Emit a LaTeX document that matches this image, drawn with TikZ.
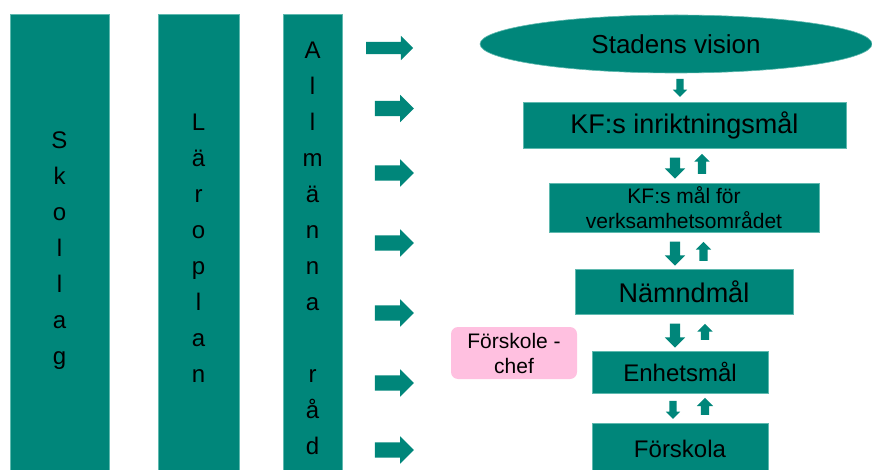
\documentclass[tikz,border=0pt]{standalone}
\usepackage{fontspec}
\setmainfont{Liberation Sans}
\usetikzlibrary{shapes.geometric,shapes.arrows}
\definecolor{tealc}{RGB}{0,134,122}
\definecolor{tealedge}{RGB}{95,185,175}
\definecolor{pinkc}{RGB}{255,192,224}
\begin{document}
\begin{tikzpicture}[x=1pt,y=-1pt,
  colbox/.style={fill=tealc, draw=tealedge, line width=0.6pt, anchor=north west, inner sep=0},
  coltext/.style={font=\fontsize{24}{36}\selectfont, align=center, inner sep=0},
  goalbox/.style={fill=tealc, draw=tealedge, line width=0.6pt, inner sep=0, align=center},
  blockarrow/.style={single arrow, fill=tealc, draw=none, inner xsep=0, minimum width=0pt},
  rarrow/.style={blockarrow, minimum height=39, inner ysep=7.5, single arrow head extend=6},
  darrow/.style={blockarrow, rotate=-90, inner ysep=5, single arrow head extend=5},
  uarrow/.style={blockarrow, rotate=90, inner ysep=4, single arrow head extend=3.5}
]
\useasboundingbox (0,0) rectangle (872,470);

% left columns
\node[colbox, minimum width=99, minimum height=460] (skollag) at (10,14) {};
\node[colbox, minimum width=81, minimum height=460] (laroplan) at (158,14) {};
\node[colbox, minimum width=59, minimum height=460] (allmanna) at (283,14) {};
\node[coltext] (skollagtxt) at (59.5,250.5) {S\\k\\o\\l\\l\\a\\g};
\node[coltext] (laroplantxt) at (198.5,248) {L\\ä\\r\\o\\p\\l\\a\\n};
\node[coltext] (allmannatxt) at (312.5,248) {A\\l\\l\\m\\ä\\n\\n\\a\\\mbox{}\\r\\å\\d};

% right-pointing arrows
\node[rarrow, minimum height=47, inner ysep=6] (r1) at (386.5,48) {};
\node[rarrow] (r2) at (390.5,108.5) {};
\node[rarrow] (r3) at (390.5,173) {};
\node[rarrow] (r4) at (390.5,243) {};
\node[rarrow] (r5) at (390.5,313) {};
\node[rarrow] (r6) at (390.5,383) {};
\node[rarrow] (r7) at (390.5,450) {};

% goal hierarchy
\node[ellipse, fill=tealc, draw=tealedge, line width=0.6pt, inner sep=0,
      minimum width=392, minimum height=58, font=\fontsize{26}{30}\selectfont] (vision) at (676,44) {Stadens vision};
\node[goalbox, minimum width=323, minimum height=46, font=\fontsize{27}{30}\selectfont] (kfinr) at (684.5,125) {KF:s inriktningsmål};
\node[goalbox, minimum width=270, minimum height=49, font=\fontsize{21}{25}\selectfont] (kfmal) at (684,207.5) {KF:s mål för\\verksamhetsområdet};
\node[goalbox, minimum width=218, minimum height=45, font=\fontsize{27}{30}\selectfont] (namnd) at (684,291.5) {Nämndmål};
\node[goalbox, minimum width=176, minimum height=42, font=\fontsize{24}{28}\selectfont] (enhet) at (680,372) {Enhetsmål};
\node[goalbox, minimum width=176, minimum height=51, font=\fontsize{24}{28}\selectfont] (forskola) at (680,448.5) {Förskola};
\node[fill=pinkc, draw=none, rounded corners=7, inner sep=0, align=center,
      minimum width=126, minimum height=52, font=\fontsize{21}{25}\selectfont] (chef) at (514,353) {Förskole -\\chef};

% vertical arrows
\node[darrow, minimum height=18, inner ysep=3.5, single arrow head extend=3.5] (d0) at (680,86) {};
\node[darrow, minimum height=21] (d1) at (675,165.5) {};
\node[uarrow, minimum height=20] (u1) at (702,166) {};
\node[darrow, minimum height=24] (d2) at (675,251) {};
\node[uarrow, minimum height=19] (u2) at (703.5,253.5) {};
\node[darrow, minimum height=24] (d3) at (675,333) {};
\node[uarrow, minimum height=16] (u3) at (705,334) {};
\node[darrow, minimum height=18, inner ysep=3.5, single arrow head extend=3.5] (d4) at (673,408) {};
\node[uarrow, minimum height=17, single arrow head extend=4] (u4) at (705,408.5) {};
\end{tikzpicture}
\end{document}
